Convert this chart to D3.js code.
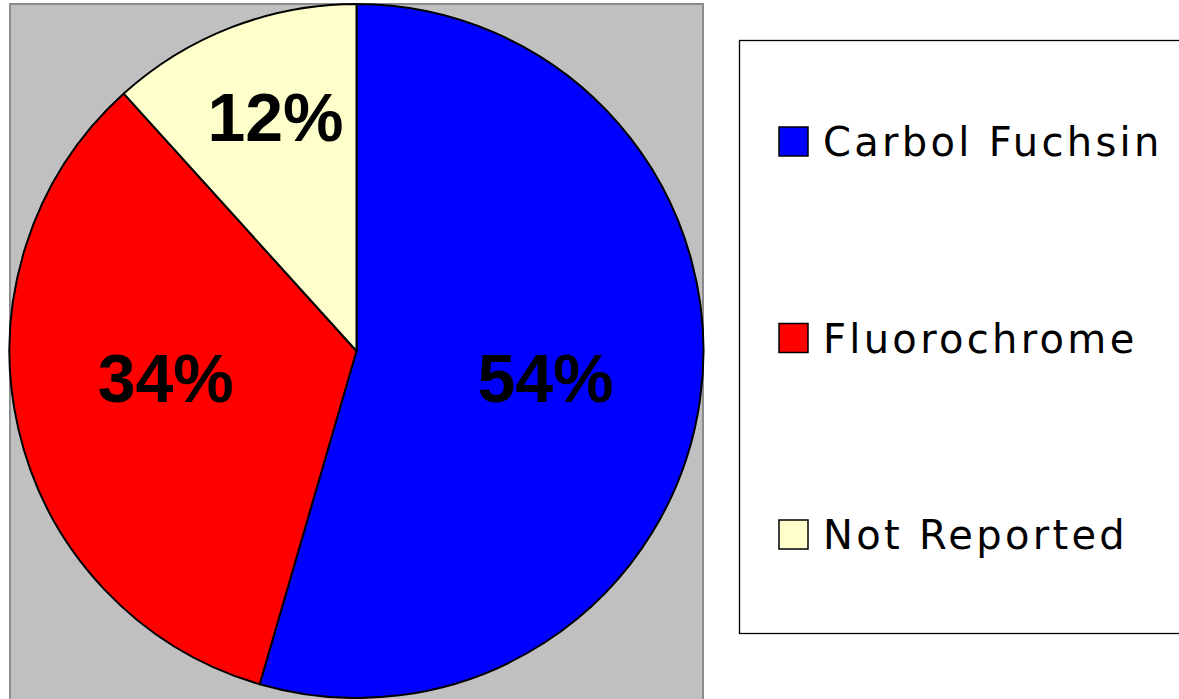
<!DOCTYPE html>
<html>
<head>
<meta charset="utf-8">
<script src="https://cdn.jsdelivr.net/npm/d3@7"></script>
<style>
  body { margin: 0; background: #fff; }
  svg { display: block; }
</style>
</head>
<body>
<svg id="chart" width="1179" height="699"></svg>
<script>
'use strict'

const categories = ['Carbol Fuchsin', 'Fluorochrome', 'Not Reported']
const values = [54.5, 33.8, 11.7]
const labels = ['54%', '34%', '12%']
const colors = ['#0000ff', '#ff0000', '#ffffcc']

const svg = d3.select('#chart')

// plot area background
svg.append('rect')
  .attr('x', 10).attr('y', 4)
  .attr('width', 693).attr('height', 710)
  .attr('fill', '#c0c0c0')
  .attr('stroke', '#8c8c8c')
  .attr('stroke-width', 2)

const cx = 356.5, cy = 351, r = 347

const pie = d3.pie().sort(null).value(d => d)
const arc = d3.arc().innerRadius(0).outerRadius(r)
const arcs = pie(values)

const g = svg.append('g').attr('transform', `translate(${cx},${cy})`)

g.selectAll('path')
  .data(arcs)
  .join('path')
    .attr('d', arc)
    .attr('fill', (d, i) => colors[i])
    .attr('stroke', '#000')
    .attr('stroke-width', 2)
    .attr('stroke-linejoin', 'round')

// label placement: radius fraction and angle shift (deg) per slice
const labelRadius = [0.55, 0.555, 0.715]
const labelShift = [0, 5, 2]
g.selectAll('text')
  .data(arcs)
  .join('text')
    .attr('transform', (d, i) => {
      const a = (d.startAngle + d.endAngle) / 2 + labelShift[i] * Math.PI / 180
      const rr = r * labelRadius[i]
      return `translate(${Math.sin(a) * rr},${-Math.cos(a) * rr})`
    })
    .attr('text-anchor', 'middle')
    .attr('dy', '0.36em')
    .attr('font-family', 'Liberation Sans, Arial, sans-serif')
    .attr('font-weight', 'bold')
    .attr('font-size', 68)
    .attr('fill', '#000')
    .text((d, i) => labels[i])

// legend
const legend = svg.append('g')
legend.append('rect')
  .attr('x', 739.5).attr('y', 40.5)
  .attr('width', 460).attr('height', 593)
  .attr('fill', '#fff')
  .attr('stroke', '#000')
  .attr('stroke-width', 1.3)

const legendY = d3.scalePoint().domain(categories).range([142, 535])

const item = legend.selectAll('.item')
  .data(categories)
  .join('g')
    .attr('class', 'item')
    .attr('transform', d => `translate(0,${legendY(d)})`)

item.append('rect')
  .attr('x', 779).attr('y', -15)
  .attr('width', 29).attr('height', 29)
  .attr('fill', (d, i) => colors[i])
  .attr('stroke', '#000')
  .attr('stroke-width', 1.5)

item.append('text')
  .attr('x', 823)
  .attr('dy', '0.36em')
  .attr('font-family', 'DejaVu Sans, Verdana, sans-serif')
  .attr('font-size', 40)
  .attr('letter-spacing', 3.3)
  .attr('fill', '#000')
  .text(d => d)
</script>
</body>
</html>
